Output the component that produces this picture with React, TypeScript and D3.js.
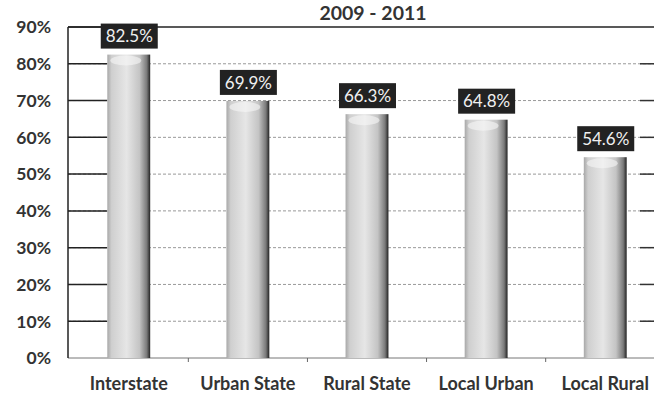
import React from "react";
import * as d3 from "d3";

const categories = ["Interstate", "Urban State", "Rural State", "Local Urban", "Local Rural"];
const values = [82.5, 69.9, 66.3, 64.8, 54.6];
const yTicks = [0, 10, 20, 30, 40, 50, 60, 70, 80, 90];
const title = "2009 - 2011";

const W = 654, H = 394;
const margin = { left: 68, right: -12, top: 27, bottom: 36 };

export default function App() {
  const x = d3.scaleBand<string>().domain(categories).range([margin.left, W - margin.right]).paddingInner(0.64).paddingOuter(0.33);
  const y = d3.scaleLinear().domain([0, 90]).range([H - margin.bottom, margin.top]);
  const font = "Lato, 'Open Sans', sans-serif";
  const bw = x.bandwidth();
  const firstLeft = x(categories[0]) as number;
  return (
    <svg width={W} height={H} style={{ position: "absolute", left: 0, top: 0, background: "#fff" }}>
      <defs>
        <linearGradient id="barg" x1="0" x2="1" y1="0" y2="0">
          <stop offset="0" stopColor="#a8a8a8" />
          <stop offset="0.1" stopColor="#cfcfcf" />
          <stop offset="0.45" stopColor="#e6e6e6" />
          <stop offset="0.75" stopColor="#c4c4c4" />
          <stop offset="0.92" stopColor="#7a7a7a" />
          <stop offset="1" stopColor="#222" />
        </linearGradient>
      </defs>
      <rect x={0} y={0} width={W} height={H} fill="#fff" />
      {yTicks.map((t) => (
        <g key={t}>
          {t > 0 && t < 90 && (
            <line x1={margin.left} x2={W} y1={y(t)} y2={y(t)} stroke="#999" strokeWidth={1} strokeDasharray="3,2" />
          )}
          {t > 0 && (
            <line x1={margin.left} x2={firstLeft} y1={y(t)} y2={y(t)} stroke="#222" strokeWidth={1.5} />
          )}
          {t > 0 && t < 90 && (
            <line x1={W - 14} x2={W} y1={y(t)} y2={y(t)} stroke="#333" strokeWidth={1.5} />
          )}
          <text x={51} y={y(t)} dy="0.36em" textAnchor="end" fontFamily={font} fontWeight="bold" fontSize={17.5} fill="#333">
            {t}%
          </text>
        </g>
      ))}
      <line x1={margin.left} x2={W} y1={y(90)} y2={y(90)} stroke="#222" strokeWidth={1.5} />
      <line x1={margin.left} x2={W} y1={y(0)} y2={y(0)} stroke="#777" strokeWidth={1} />
      <line x1={margin.left} x2={margin.left} y1={y(90)} y2={y(0)} stroke="#222" strokeWidth={1.5} />
      {categories.slice(1).map((c) => {
        const bx = (x(c) as number) - (x.step() * 0.64) / 2;
        return <line key={c} x1={bx} x2={bx} y1={y(0)} y2={y(0) + 4} stroke="#666" strokeWidth={1} />;
      })}
      <text x={373} y={20} textAnchor="middle" fontFamily={font} fontWeight="bold" fontSize={19.5} fill="#333">
        {title}
      </text>
      {categories.map((c, i) => {
        const bx = x(c) as number;
        const top = y(values[i]);
        const label = values[i].toFixed(1) + "%";
        const cx = bx + bw / 2;
        return (
          <g key={c}>
            <rect x={bx} y={top} width={bw} height={y(0) - top} fill="url(#barg)" />
            <ellipse cx={cx - 3} cy={top + 6} rx={bw / 2 - 6} ry={5} fill="#f6f6f6" opacity={0.6} />
            <rect x={cx - 28} y={top - 31} width={57} height={25} fill="#222" />
            <text x={cx + 0.5} y={top - 18.5} dy="0.36em" textAnchor="middle" fontFamily={font} fontSize={17} fill="#f0f0f0">
              {label}
            </text>
            <text x={cx} y={384} dy="0.36em" textAnchor="middle" fontFamily={font} fontWeight="bold" fontSize={18} fill="#333">
              {c}
            </text>
          </g>
        );
      })}
    </svg>
  );
}
